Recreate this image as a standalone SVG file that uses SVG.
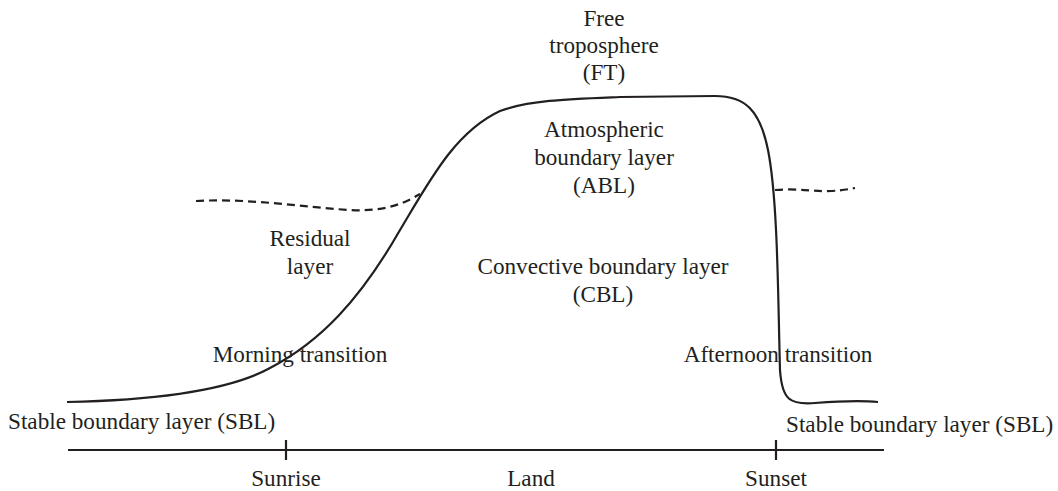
<svg xmlns="http://www.w3.org/2000/svg" width="1058" height="491" viewBox="0 0 1058 491">
<style>
text{font-family:"Liberation Serif","Times New Roman",serif;font-size:23.2px;fill:#231f20}
.c{text-anchor:middle}
.ln{fill:none;stroke:#231f20;stroke-width:2.2}
.ds{fill:none;stroke:#231f20;stroke-width:2.2;stroke-dasharray:8,5}
</style>
<rect width="1058" height="491" fill="#fff"/>
<g id="connectors">
<path class="ln" d="M67,402 C160,400 230,390 270,368 C320,342 360,300 400,230 C430,180 455,132 500,111 C530,100 570,99 620,97 L715,96 C745,96 760,110 768,150 C778,200 778,300 780,370 C782,400 790,405 815,403 C840,401 860,400 878,402"/>
<path class="ds" d="M196,201 C250,198 300,207 350,210 C385,212 405,203 420,194"/>
<path class="ds" d="M775,190 C800,188 815,192 832,191 C845,190 850,189 855,188"/>
<path class="ln" d="M68,450 H884"/>
<path class="ln" stroke-width="3" d="M286,440 V460 M776,440 V460"/>
</g>
<g id="ft"><text class="c" x="604" y="26">Free</text><text class="c" x="604" y="53">troposphere</text><text class="c" x="604" y="80">(FT)</text></g>
<g id="abl"><text class="c" x="604" y="137">Atmospheric</text><text class="c" x="604" y="165">boundary layer</text><text class="c" x="604" y="193">(ABL)</text></g>
<g id="residual"><text class="c" x="310" y="246">Residual</text><text class="c" x="310" y="274">layer</text></g>
<g id="cbl"><text class="c" x="603" y="274">Convective boundary layer</text><text class="c" x="603" y="302">(CBL)</text></g>
<g id="morning"><text class="c" x="300" y="362">Morning transition</text></g>
<g id="afternoon"><text class="c" x="778" y="362">Afternoon transition</text></g>
<g id="sbl-left"><text x="8" y="429">Stable boundary layer (SBL)</text></g>
<g id="sbl-right"><text x="786" y="432">Stable boundary layer (SBL)</text></g>
<g id="axis-labels"><text class="c" x="286" y="486">Sunrise</text><text class="c" x="531" y="486">Land</text><text class="c" x="776" y="486">Sunset</text></g>
</svg>
